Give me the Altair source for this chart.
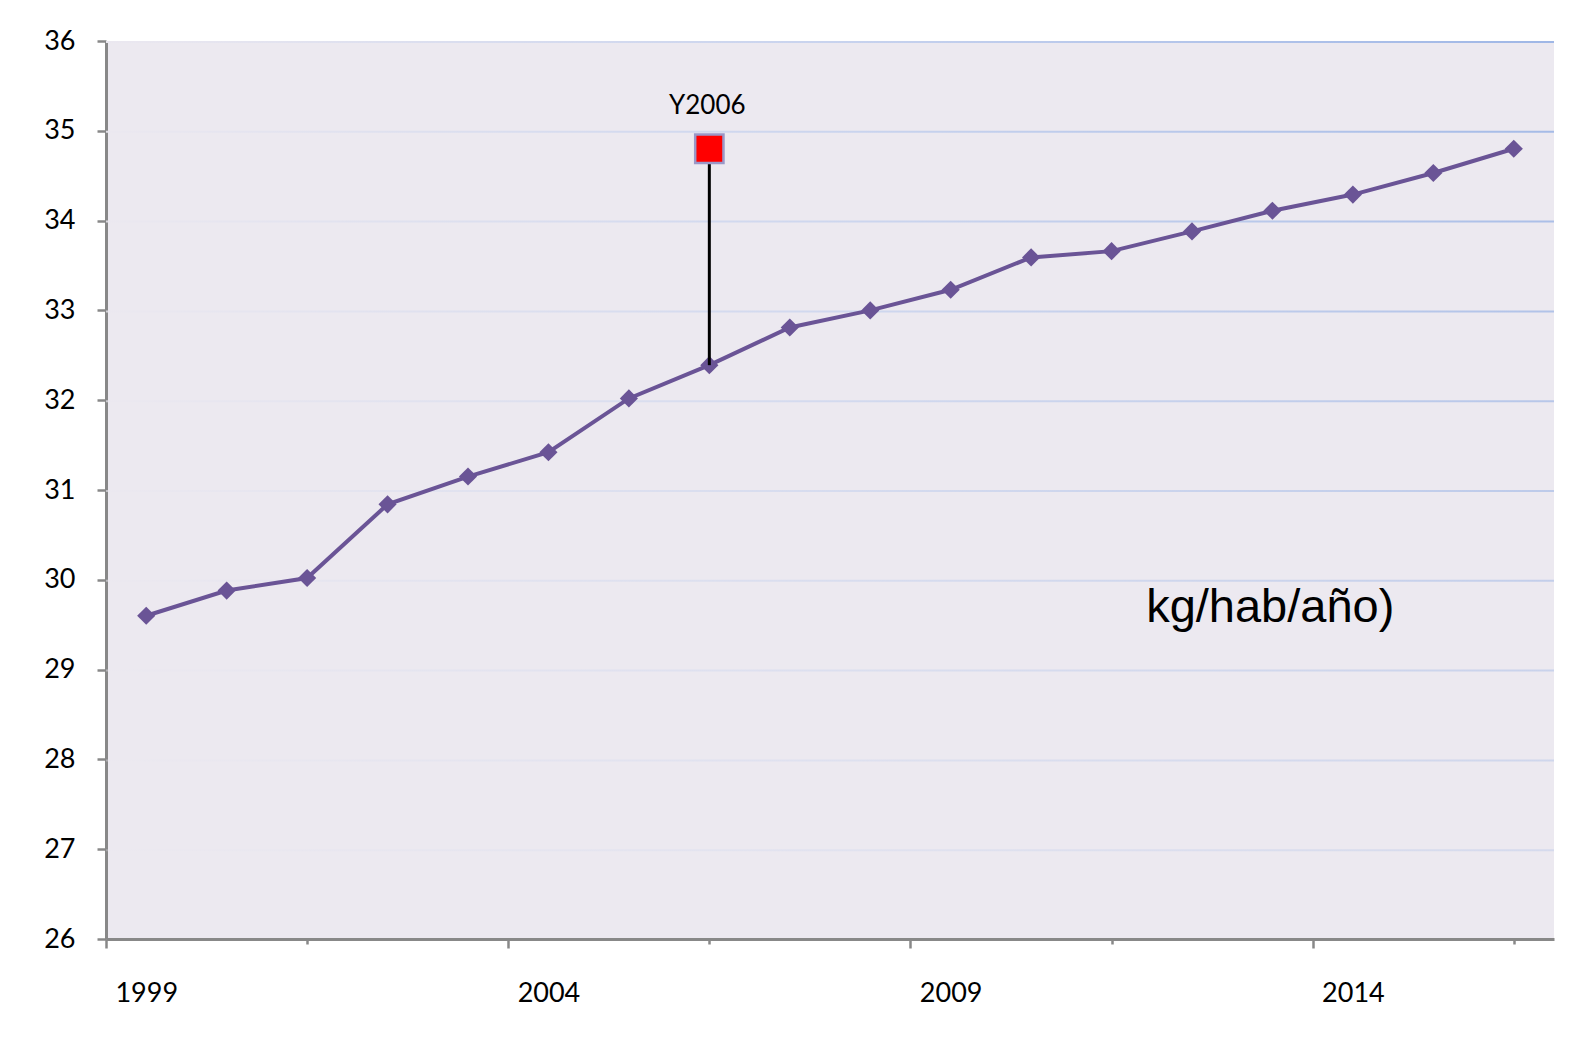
import altair as alt
import pandas as pd

years = list(range(1999, 2017))
values = [29.6, 29.88, 30.02, 30.84, 31.15, 31.42, 32.02, 32.39, 32.81, 33.0,
          33.23, 33.59, 33.66, 33.88, 34.11, 34.29, 34.53, 34.80]
grid_values = [27, 28, 29, 30, 31, 32, 33, 34, 35, 36]
label_years = [1999, 2004, 2009, 2014]
major_ticks = [1998.5, 2003.5, 2008.5, 2013.5]
minor_ticks = [2001, 2006, 2011, 2016]
highlight_year = 2006
highlight_value = 34.80
highlight_label = "Y2006"
unit_text = "kg/hab/año)"

XDOM = [1998.5, 2016.5]
YDOM = [26, 36]

df = pd.DataFrame({"year": years, "value": values})
grid_df = pd.DataFrame({"start": [XDOM[0]] * len(grid_values), "end": [XDOM[1]] * len(grid_values),
                        "y": grid_values, "y2": [g - 0.022 for g in grid_values]})

tick_vals = sorted(major_ticks + minor_ticks + label_years)
label_test = " || ".join(f"datum.value == {y}" for y in label_years)
major_test = " || ".join(f"datum.value == {y}" for y in major_ticks)

x_scale = alt.Scale(domain=XDOM, nice=False, zero=False)
y_scale = alt.Scale(domain=YDOM, nice=False, zero=False)

x_axis = alt.Axis(
    values=tick_vals, grid=False, title=None,
    labelExpr=f"({label_test}) ? format(datum.value, 'd') : ''",
    tickOpacity={"condition": {"test": label_test, "value": 0}, "value": 1},
    tickSize={"condition": {"test": major_test, "value": 9}, "value": 5},
    labelPadding=36, labelFlush=False, labelOverlap=False,
    domainColor="#888888", domainWidth=3, tickColor="#888888", tickWidth=2.5,
    labelFont="Lato", labelFontSize=27, labelColor="#000000",
)
y_axis = alt.Axis(
    values=list(range(26, 37)), grid=False, title=None, format="d",
    tickSize=9, labelPadding=22,
    domainColor="#888888", domainWidth=3, tickColor="#888888", tickWidth=2.5,
    labelFont="Lato", labelFontSize=27, labelColor="#000000",
)

grid = alt.Chart(grid_df).mark_rect(
    fill=alt.LinearGradient(
        gradient="linear", x1=0, x2=1, y1=0, y2=0,
        stops=[alt.GradientStop(color="#ebe8f0", offset=0),
               alt.GradientStop(color="#c8d3ee", offset=0.5),
               alt.GradientStop(color="#9fb7e6", offset=1)],
    )
).encode(
    x=alt.X("start:Q", scale=x_scale, axis=x_axis),
    x2="end:Q",
    y=alt.Y("y:Q", scale=y_scale, axis=y_axis),
    y2="y2:Q",
    opacity=alt.Opacity("y:Q", scale=alt.Scale(domain=[27, 36], range=[0.3, 1.0]), legend=None),
)

line = alt.Chart(df).mark_line(color="#6a5496", strokeWidth=4).encode(
    x=alt.X("year:Q", scale=x_scale),
    y=alt.Y("value:Q", scale=y_scale),
)
points = alt.Chart(df).mark_point(shape="diamond", filled=True, size=330, color="#6a5496", opacity=1).encode(
    x=alt.X("year:Q", scale=x_scale),
    y=alt.Y("value:Q", scale=y_scale),
)

hl_df = pd.DataFrame({"year": [highlight_year], "top": [highlight_value],
                      "bottom": [values[years.index(highlight_year)]],
                      "label": [highlight_label], "label_y": [35.28]})

connector = alt.Chart(hl_df).mark_rule(color="#000000", strokeWidth=3).encode(
    x=alt.X("year:Q", scale=x_scale),
    y=alt.Y("top:Q", scale=y_scale),
    y2="bottom:Q",
)
square = alt.Chart(hl_df).mark_point(shape="square", filled=True, size=800, fill="#ff0000",
                                     stroke="#9a98c8", strokeWidth=2.5, opacity=1).encode(
    x=alt.X("year:Q", scale=x_scale),
    y=alt.Y("top:Q", scale=y_scale),
)
square_label = alt.Chart(hl_df).mark_text(font="Lato", fontSize=26, color="#000000",
                                          baseline="middle", align="center", dx=-2).encode(
    x=alt.X("year:Q", scale=x_scale),
    y=alt.Y("label_y:Q", scale=y_scale),
    text="label:N",
)

unit_df = pd.DataFrame({"x": [2011.43], "y": [29.53], "t": [unit_text]})
unit = alt.Chart(unit_df).mark_text(font="Liberation Sans", fontSize=47, color="#000000",
                                    align="left", baseline="alphabetic").encode(
    x=alt.X("x:Q", scale=x_scale),
    y=alt.Y("y:Q", scale=y_scale),
    text="t:N",
)

chart = alt.layer(grid, line, points, connector, square, square_label, unit).properties(
    width=1448, height=898,
    autosize=alt.AutoSizeParams(type="none"),
    padding={"left": 98, "top": 33, "right": 10, "bottom": 85},
    background="#ffffff",
).configure_view(fill="#ece9f0", stroke=None)

chart.save("out.html", embed_options={"renderer": "svg", "actions": False})
